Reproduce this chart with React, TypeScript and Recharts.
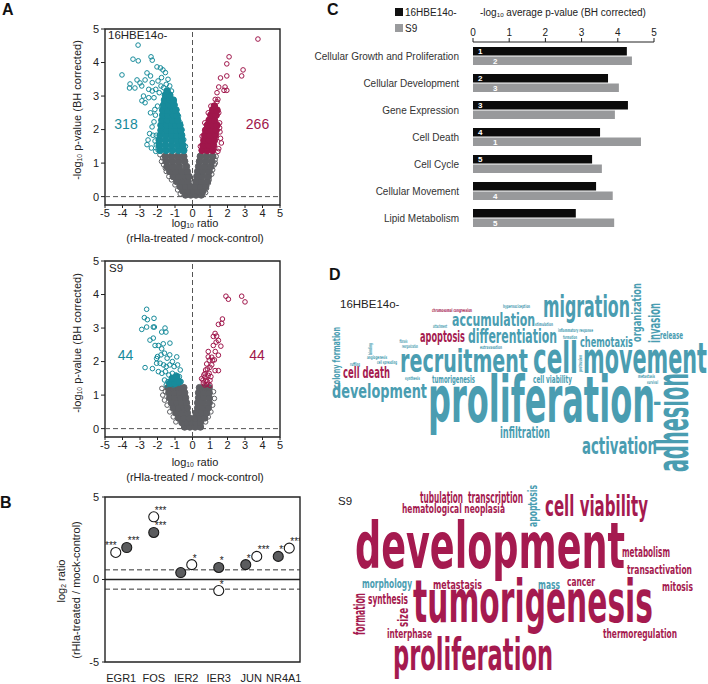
import React from 'react';
import {
  ScatterChart, Scatter, XAxis, YAxis, ReferenceLine, ReferenceArea,
  BarChart, Bar, LabelList,
} from 'recharts';

const FONT = "'Liberation Sans', Arial, Helvetica, sans-serif";
const CLOUD_FONT = "'Liberation Sans Narrow', 'DejaVu Sans Condensed', Roboto, 'Liberation Sans', sans-serif";
const TEAL = '#178b9b';
const RED = '#a0164b';
const GRAY = '#5e5f63';
const CLOUD_COLORS = ['#4a9db1', '#a51a4f'];

// ---------------- Panel A data (log10 ratio, -log10 p) ----------------
const volcanoXTicks = [-5, -4, -3, -2, -1, 0, 1, 2, 3, 4, 5];
const volcanoYTicks = [0, 1, 2, 3, 4, 5];
const hbeDownCount = 318;
const hbeUpCount = 266;
const s9DownCount = 44;
const s9UpCount = 44;

const hbeNsCore: number[][] = [
  [-0.4, 0.05], [-0.1, 0.05], [0.2, 0.05], [0.5, 0.05],
  [-0.55, 0.17], [-0.25, 0.17], [0.05, 0.17], [0.3, 0.17], [0.6, 0.17],
  [-0.7, 0.3], [-0.4, 0.3], [-0.12, 0.3], [0.15, 0.3], [0.45, 0.3], [0.75, 0.3],
  [-0.9, 0.45], [-0.6, 0.45], [-0.25, 0.45], [0.2, 0.45], [0.5, 0.45], [0.85, 0.45],
  [-1.1, 0.6], [-0.8, 0.6], [-0.45, 0.6], [-0.2, 0.6], [0.25, 0.6], [0.55, 0.6], [0.9, 0.6],
  [-1.3, 0.75], [-0.95, 0.75], [-0.6, 0.75], [-0.3, 0.75], [0.3, 0.75], [0.6, 0.75], [0.95, 0.75],
  [-1.45, 0.9], [-1.1, 0.9], [-0.75, 0.9], [-0.35, 0.9], [0.35, 0.9], [0.7, 0.9], [1.05, 0.9],
  [-1.5, 1.05], [-1.15, 1.05], [-0.8, 1.05], [-0.45, 1.05], [0.4, 1.05], [0.75, 1.05], [1.1, 1.05],
  [-1.55, 1.2], [-1.2, 1.2], [-0.85, 1.2], [-0.5, 1.2], [0.45, 1.2], [0.8, 1.2], [1.15, 1.2],
];
const hbeNsOpen: number[][] = [
  [-1.86, 1.25], [-1.77, 1.05], [-1.65, 0.95], [-1.5, 0.75], [-1.35, 0.6], [-1.2, 0.5],
  [-1.0, 0.35], [-0.85, 0.2], [-1.7, 1.15], [-1.55, 0.85], [-0.7, 0.08],
  [1.35, 1.2], [1.29, 1.1], [1.25, 0.95], [1.15, 0.8], [1.1, 0.67], [0.95, 0.5],
  [0.9, 0.4], [0.8, 0.25], [0.75, 0.12], [1.3, 1.0],
];
const hbeDownCore: number[][] = [
  [-1.85, 1.38], [-1.5, 1.38], [-1.15, 1.38], [-0.8, 1.38], [-0.5, 1.38],
  [-1.9, 1.53], [-1.55, 1.53], [-1.2, 1.53], [-0.85, 1.53], [-0.55, 1.53],
  [-1.9, 1.68], [-1.55, 1.68], [-1.2, 1.68], [-0.9, 1.68], [-0.6, 1.68],
  [-1.85, 1.83], [-1.5, 1.83], [-1.2, 1.83], [-0.9, 1.83], [-0.62, 1.83],
  [-1.8, 1.98], [-1.5, 1.98], [-1.2, 1.98], [-0.9, 1.98], [-0.67, 1.98],
  [-1.8, 2.13], [-1.5, 2.13], [-1.2, 2.13], [-0.95, 2.13], [-0.72, 2.13],
  [-1.75, 2.28], [-1.45, 2.28], [-1.15, 2.28], [-0.85, 2.28],
  [-1.7, 2.43], [-1.4, 2.43], [-1.1, 2.43], [-0.9, 2.43],
  [-1.7, 2.58], [-1.4, 2.58], [-1.1, 2.58], [-0.95, 2.58],
  [-1.65, 2.73], [-1.35, 2.73], [-1.05, 2.73],
  [-1.6, 2.88], [-1.3, 2.88], [-1.1, 2.88],
  [-1.55, 3.03], [-1.3, 3.03], [-1.45, 3.15],
];
const hbeDownOpen: number[][] = [
  [-3.11, 4.52], [-3.4, 4.1], [-3.1, 4.05], [-2.37, 4.17], [-2.3, 4.07], [-4.03, 3.63],
  [-3.57, 3.36], [-3.6, 3.24], [-3.29, 3.24], [-3.17, 3.48], [-3.0, 3.39], [-2.9, 3.3],
  [-2.71, 3.48], [-2.6, 3.69], [-2.4, 3.6], [-2.03, 3.87], [-1.83, 3.84], [-1.69, 3.78],
  [-1.77, 3.55], [-1.97, 3.45], [-2.89, 2.86], [-2.71, 2.8], [-2.8, 3.0], [-2.5, 2.95],
  [-2.3, 3.15], [-2.2, 2.95], [-2.31, 2.08], [-2.26, 1.83], [-2.14, 1.66], [-2.54, 1.69],
  [-2.45, 1.88], [-2.07, 1.83], [-2.07, 1.54], [-1.97, 1.39], [-2.2, 2.23], [-2.12, 2.43],
  [-1.55, 3.7], [-1.4, 3.5], [-1.3, 3.3], [-1.5, 3.35], [-1.2, 3.15], [-1.05, 2.85],
  [-0.9, 2.6], [-0.8, 2.4], [-0.6, 2.0], [-0.5, 1.7], [-2.3, 3.4], [-2.1, 3.2],
  [-1.9, 3.1], [-2.5, 3.2], [-2.0, 2.7], [-2.15, 2.6], [-2.4, 2.5], [-2.35, 1.45],
  [-2.6, 1.55], [-1.65, 3.25], [-1.8, 3.3], [-1.35, 3.0], [-0.95, 2.3], [-0.7, 2.2],
  [-0.4, 1.5], [-2.1, 1.35],
];
const hbeUpCore: number[][] = [
  [0.55, 1.38], [0.85, 1.38], [1.15, 1.38],
  [0.6, 1.53], [0.9, 1.53], [1.2, 1.53],
  [0.65, 1.68], [0.95, 1.68], [1.25, 1.68],
  [0.7, 1.83], [1.0, 1.83], [1.3, 1.83],
  [0.75, 1.98], [1.05, 1.98], [1.35, 1.98],
  [0.85, 2.13], [1.15, 2.13], [1.4, 2.13],
  [0.95, 2.28], [1.25, 2.28],
  [1.05, 2.43], [1.35, 2.43],
  [1.15, 2.58], [1.4, 2.58], [1.25, 2.7],
];
const hbeUpOpen: number[][] = [
  [3.74, 4.7], [2.09, 4.17], [1.96, 3.96], [2.89, 3.78], [2.81, 3.6], [1.6, 3.54],
  [1.96, 3.6], [1.5, 3.27], [1.86, 3.27], [1.96, 3.17], [1.8, 3.17], [1.4, 3.1],
  [1.4, 2.83], [1.2, 2.64], [1.57, 1.93], [1.6, 1.74], [1.5, 1.43], [1.55, 2.2],
  [1.5, 2.5], [1.65, 1.6], [1.45, 2.9], [1.3, 2.9], [1.55, 2.05], [1.45, 1.35],
  [0.45, 1.5], [0.55, 1.8], [0.7, 2.2], [0.9, 2.5], [1.05, 2.7],
];

const s9NsCore: number[][] = [
  [-0.45, 0.05], [-0.15, 0.05], [0.15, 0.05], [0.45, 0.05],
  [-0.6, 0.18], [-0.3, 0.18], [-0.05, 0.18], [0.2, 0.18], [0.45, 0.18],
  [-0.8, 0.32], [-0.5, 0.32], [-0.2, 0.32], [0.15, 0.32], [0.45, 0.32], [0.7, 0.32],
  [-0.95, 0.47], [-0.65, 0.47], [-0.3, 0.47], [0.2, 0.47], [0.5, 0.47], [0.8, 0.47],
  [-1.1, 0.62], [-0.8, 0.62], [-0.5, 0.62], [-0.3, 0.62], [0.3, 0.62], [0.6, 0.62], [0.9, 0.62],
  [-1.2, 0.77], [-0.9, 0.77], [-0.6, 0.77], [-0.35, 0.77], [0.3, 0.77], [0.6, 0.77], [0.95, 0.77],
  [-1.3, 0.92], [-1.0, 0.92], [-0.7, 0.92], [-0.4, 0.92], [0.35, 0.92], [0.65, 0.92], [0.95, 0.92],
  [-1.35, 1.07], [-1.05, 1.07], [-0.75, 1.07], [-0.45, 1.07], [0.35, 1.07], [0.65, 1.07], [0.95, 1.07],
  [-1.4, 1.22], [-1.1, 1.22], [-0.8, 1.22], [-0.5, 1.22], [0.4, 1.22], [0.7, 1.22], [0.95, 1.22],
];
const s9NsOpen: number[][] = [
  [-1.75, 1.2], [-1.7, 1.0], [-1.6, 0.85], [-1.55, 1.1], [-1.45, 0.7], [-1.3, 0.5],
  [-1.1, 0.35], [-0.95, 0.2], [1.2, 1.1], [1.25, 0.9], [1.15, 0.7], [1.05, 0.5],
  [0.9, 0.35], [0.75, 0.2],
];
const s9DownCore: number[][] = [
  [-1.3, 1.35], [-1.0, 1.35], [-0.75, 1.4], [-1.15, 1.5], [-0.9, 1.55],
];
const s9DownOpen: number[][] = [
  [-2.62, 3.56], [-2.75, 3.31], [-2.58, 3.25], [-2.2, 3.29], [-2.9, 2.96], [-2.62, 3.03],
  [-2.24, 3.03], [-2.18, 3.03], [-1.76, 2.88], [-1.57, 3.0], [-1.52, 2.88], [-2.43, 2.64],
  [-2.24, 2.7], [-2.14, 2.48], [-1.95, 2.48], [-1.67, 2.53], [-1.76, 2.38], [-1.29, 2.55],
  [-2.71, 1.82], [-2.29, 1.79], [-2.05, 2.09], [-0.9, 2.14],
  [-2.0, 2.15], [-1.8, 2.2], [-1.6, 2.25], [-1.45, 2.1], [-1.3, 2.2], [-1.15, 2.0],
  [-2.05, 1.95], [-1.85, 1.95], [-1.65, 1.9], [-1.5, 1.85], [-1.3, 1.9], [-1.05, 1.85],
  [-0.85, 1.9], [-1.95, 1.7], [-1.75, 1.65], [-1.55, 1.7], [-1.35, 1.6], [-1.15, 1.65],
  [-0.95, 1.6], [-0.75, 1.55], [-1.6, 1.45], [-1.4, 1.4], [-1.2, 1.45], [-1.0, 1.4],
  [-0.8, 1.35], [-0.65, 1.4], [-1.5, 1.3], [-1.1, 1.3], [-0.9, 1.5], [-0.7, 1.75],
];
const s9UpOpen: number[][] = [
  [1.91, 3.95], [2.05, 3.86], [2.81, 3.95], [3.0, 3.78], [1.71, 3.27], [1.67, 3.14],
  [1.48, 3.11], [1.29, 2.84], [1.38, 2.76], [1.19, 2.75], [1.48, 2.63], [1.35, 2.58],
  [1.19, 2.48], [1.62, 2.46], [1.1, 2.13], [1.48, 2.19], [0.96, 2.04], [0.81, 1.93],
  [1.0, 1.83], [1.29, 1.73], [1.48, 1.73], [0.71, 1.64], [0.9, 1.59], [0.52, 1.49],
  [0.77, 1.44], [1.0, 1.44], [0.62, 1.36], [0.81, 1.32], [1.0, 1.29], [0.71, 1.54],
  [0.85, 1.78], [1.15, 2.04], [0.9, 2.14], [0.95, 1.65], [0.6, 1.45], [0.75, 1.75],
  [1.05, 1.55], [0.85, 1.4], [1.1, 1.9], [0.7, 1.3], [0.9, 2.3], [1.3, 2.3],
  [1.25, 2.05], [0.65, 1.6],
];

// ---------------- Panel B data (log2 ratio) ----------------
const genes = ['EGR1', 'FOS', 'IER2', 'IER3', 'JUN', 'NR4A1'];
const openRatio = [1.64, 3.8, 0.9, -0.67, 1.4, 1.9];
const filledRatio = [1.94, 2.85, 0.42, 0.73, 0.9, 1.4];
const openSig = ['***', '***', '*', '*', '***', '***'];
const filledSig = ['***', '***', '', '*', '*', '**'];
const openSide = [-1, 0, 1, 0, 1, 1];
const filledSide = [1, 0, -1, 0, -1, -1];
const bYTicks = [-5, 0, 5];
const foldThreshold = 0.585;

// ---------------- Panel C data ----------------
const functions = [
  'Cellular Growth and Proliferation', 'Cellular Development', 'Gene Expression',
  'Cell Death', 'Cell Cycle', 'Cellular Movement', 'Lipid Metabolism',
];
const hbeScore = [4.25, 3.73, 4.28, 3.51, 3.29, 3.4, 2.84];
const s9Score = [4.39, 4.03, 3.92, 4.64, 3.56, 3.86, 3.9];
const hbeRank = ['1', '2', '3', '4', '5', '', ''];
const s9Rank = ['2', '3', '', '1', '', '4', '5'];
const cTicks = [0, 1, 2, 3, 4, 5];

// ---------------- Panel D data ----------------
// [word, x, y, fontSize, length, colour(0 teal / 1 red), vertical]
type Word = [string, number, number, number, number, number, number];
const hbeWords: Word[] = [
  ['migration', 586.5, 317, 31, 87, 0, 0],
  ['recruitment', 464, 372, 32, 128, 0, 0],
  ['cell', 555.5, 373, 43, 45, 0, 0],
  ['movement', 645, 373, 43, 124, 0, 0],
  ['proliferation', 541.5, 422, 64, 227, 0, 0],
  ['accumulation', 493.5, 326, 18, 83, 0, 0],
  ['differentiation', 512.5, 343, 19, 89, 0, 0],
  ['apoptosis', 442.5, 342, 15, 45, 1, 0],
  ['chemotaxis', 606.5, 347, 14, 53, 0, 0],
  ['release', 671.5, 339, 11, 23, 0, 0],
  ['organization', 641, 312.5, 13, 59, 0, 1],
  ['invasion', 660, 323, 16, 40, 0, 1],
  ['colony formation', 340, 357.5, 11, 61, 0, 1],
  ['cell death', 366.5, 378, 15, 47, 1, 0],
  ['development', 379.5, 398, 20, 95, 0, 0],
  ['tumorigenesis', 453.5, 383, 11, 43, 0, 0],
  ['cell viability', 552.5, 383, 11, 39, 0, 0],
  ['infiltration', 525, 438, 15, 50, 0, 0],
  ['activation', 619.5, 454, 23, 75, 0, 0],
  ['adhesion', 688, 422.5, 44, 99, 0, 1],
  ['chromosomal congression', 452, 312, 5, 40, 1, 0],
  ['hypernociception', 516.5, 308, 5, 27, 0, 0],
  ['attachment', 440, 328, 5, 14, 0, 0],
  ['stimulation', 544, 326, 5, 18, 0, 0],
  ['inflammatory response', 575.5, 332, 5, 35, 0, 0],
  ['formation', 570, 339, 5, 14, 0, 0],
  ['fibrosis', 403.5, 343, 5, 8, 0, 0],
  ['reorganization', 410, 348, 5, 16, 0, 0],
  ['extravasation', 491, 349, 5, 22, 0, 0],
  ['binding', 372, 349, 5, 12, 0, 1],
  ['angiogenesis', 377, 359, 5, 20, 0, 0],
  ['ruffling', 355, 366, 5, 10, 0, 0],
  ['cell spreading', 387, 364, 5, 20, 0, 0],
  ['synthesis', 412.5, 380, 5, 15, 0, 0],
  ['protrusion', 582, 363.5, 5, 17, 0, 1],
  ['metastasis', 646.5, 378, 5, 17, 0, 0],
  ['survival', 652.5, 384, 5, 11, 0, 0],
];
const s9Words: Word[] = [
  ['tubulation', 441.5, 503, 15, 43, 1, 0],
  ['transcription', 495.5, 503, 15, 55, 1, 0],
  ['hematological neoplasia', 453.5, 513, 12, 103, 1, 0],
  ['apoptosis', 537, 506, 12, 42, 0, 1],
  ['cell viability', 596.5, 516, 29, 103, 1, 0],
  ['development', 490, 568, 64, 270, 1, 0],
  ['metabolism', 646, 557, 14, 48, 1, 0],
  ['transactivation', 659.5, 574, 13, 65, 1, 0],
  ['morphology', 387, 588, 13, 50, 0, 0],
  ['metastasis', 457.5, 589, 13, 49, 1, 0],
  ['mass', 549, 589, 13, 22, 0, 0],
  ['cancer', 581, 586, 13, 28, 1, 0],
  ['mitosis', 677.5, 591, 13, 31, 1, 0],
  ['synthesis', 388, 604, 14, 40, 1, 0],
  ['formation', 365, 614, 16, 42, 1, 1],
  ['size', 408, 617.5, 14, 19, 1, 1],
  ['tumorigenesis', 533, 622, 58, 240, 1, 0],
  ['interphase', 409.5, 638, 13, 45, 1, 0],
  ['thermoregulation', 640, 638, 13, 74, 1, 0],
  ['proliferation', 473, 670, 45, 160, 1, 0],
];

// ---------------- helpers ----------------
const toPts = (a: number[][]) => a.map(([x, y]) => ({ x, y }));
const tickStyle = { fontSize: 11, fill: '#222', fontFamily: FONT };
const cTickStyle = { fontSize: 10, fill: '#222', fontFamily: FONT };

const dot = (r: number, fill: string, stroke: string, sw: number) => (p: any) => (
  <circle cx={p.cx} cy={p.cy} r={r} fill={fill} stroke={stroke} strokeWidth={sw} />
);

function Txt(props: {
  x: number; y: number; children: React.ReactNode; size?: number; color?: string;
  weight?: number; align?: 'left' | 'center' | 'right'; rotate?: boolean;
}) {
  const { x, y, children, size = 11, color = '#222', weight = 400, align = 'left', rotate = false } = props;
  const tx = align === 'left' ? '0' : align === 'center' ? '-50%' : '-100%';
  return (
    <div
      style={{
        position: 'absolute', left: x, top: y, fontSize: size, color, fontWeight: weight,
        fontFamily: FONT, lineHeight: 1, whiteSpace: 'nowrap',
        transform: rotate ? 'translate(-50%, -50%) rotate(-90deg)' : `translate(${tx}, -50%)`,
      }}
    >
      {children}
    </div>
  );
}
const Sub = ({ children }: { children: React.ReactNode }) => (
  <span style={{ fontSize: '0.62em', verticalAlign: '-0.25em' }}>{children}</span>
);

type VSet = {
  nsCore: number[][]; nsOpen: number[][]; downCore: number[][]; downOpen: number[][];
  upCore: number[][]; upOpen: number[][];
};

function Volcano({ top, d }: { top: number; d: VSet }) {
  return (
    <div style={{ position: 'absolute', left: 0, top }}>
      <ScatterChart width={300} height={250} margin={{ top: 29, right: 20, bottom: 25, left: 85 }}>
        <XAxis type="number" dataKey="x" domain={[-5, 5]} ticks={volcanoXTicks} interval={0}
          axisLine={false} tickSize={3} tickMargin={1} tick={tickStyle} stroke="#222" height={20} allowDataOverflow />
        <YAxis type="number" dataKey="y" domain={[-0.25, 5]} ticks={volcanoYTicks} interval={0}
          axisLine={false} tickSize={4} tickMargin={2} tick={tickStyle} stroke="#222" width={20} allowDataOverflow />
        <ReferenceLine x={0} stroke="#555" strokeDasharray="5 3" strokeWidth={1} />
        <ReferenceLine y={0} stroke="#555" strokeDasharray="5 3" strokeWidth={1} />
        <Scatter data={toPts(d.nsCore)} shape={dot(3.3, GRAY, GRAY, 1)} isAnimationActive={false} />
        <Scatter data={toPts(d.nsOpen)} shape={dot(2.3, 'none', GRAY, 1)} isAnimationActive={false} />
        <Scatter data={toPts(d.downCore)} shape={dot(3.3, TEAL, TEAL, 1)} isAnimationActive={false} />
        <Scatter data={toPts(d.downOpen)} shape={dot(2.3, 'none', TEAL, 1)} isAnimationActive={false} />
        <Scatter data={toPts(d.upCore)} shape={dot(3.3, RED, RED, 1)} isAnimationActive={false} />
        <Scatter data={toPts(d.upOpen)} shape={dot(2.3, 'none', RED, 1)} isAnimationActive={false} />
        <ReferenceArea x1={-5} x2={5} y1={-0.25} y2={5} fill="none" fillOpacity={0} stroke="#222" strokeWidth={1.4} />
      </ScatterChart>
    </div>
  );
}

const bOpen = genes.map((g, i) => ({ x: i, y: openRatio[i], side: openSide[i], sig: openSig[i] }));
const bFilled = genes.map((g, i) => ({ x: i, y: filledRatio[i], side: filledSide[i], sig: filledSig[i] }));

const bShape = (fill: string, open: boolean) => (p: any) => {
  const side = p.payload?.side ?? 0;
  const sig = p.payload?.sig ?? '';
  const cx = p.cx + side * 5.5;
  const left = open && side < 0;
  return (
    <g>
      <circle cx={cx} cy={p.cy} r={5} fill={fill} stroke="#1a1a1a" strokeWidth={1.1} />
      {sig ? (
        <text x={cx + 1} y={p.cy - 3} textAnchor={left ? 'end' : 'start'}
          fontSize={10} fontFamily={FONT} fill="#222" style={{ fill: '#222' }}>{sig}</text>
      ) : null}
    </g>
  );
};

const cData = functions.map((name, i) => ({
  name, hbe: hbeScore[i], s9: s9Score[i], hbeRank: hbeRank[i], s9Rank: s9Rank[i],
}));

const catTick = (p: any) => (
  <text x={p.x} y={p.y} dy={4} textAnchor="end" fontSize={10} fill="#333" fontFamily={FONT}>
    {p.payload?.value}
  </text>
);

const rankLabel = (dx: number) => (p: any) => {
  if (!p.value) return null;
  return (
    <text x={p.x + dx} y={p.y + p.height / 2 + 3} fill="#fff" fontSize={8} fontWeight={700}
      fontFamily={FONT}>{p.value}</text>
  );
};

const wordShape = (p: any) => {
  const w = p.payload;
  if (!w) return null;
  const color = CLOUD_COLORS[w.c];
  if (w.v) {
    return (
      <text x={p.cx - w.len / 2} y={p.cy} transform={`rotate(-90 ${p.cx} ${p.cy})`}
        fontSize={w.size} fontWeight={700} fontFamily={CLOUD_FONT} fill={color}
        textLength={w.len} lengthAdjust="spacingAndGlyphs">{w.text}</text>
    );
  }
  return (
    <text x={p.cx - w.len / 2} y={p.cy} fontSize={w.size} fontWeight={700} fontFamily={CLOUD_FONT}
      fill={color} textLength={w.len} lengthAdjust="spacingAndGlyphs">{w.text}</text>
  );
};
const toWords = (a: Word[]) => a.map(([text, x, y, size, len, c, v]) => ({ text, x, y, size, len, c, v }));

export default function App() {
  return (
    <div style={{ position: 'absolute', left: 0, top: 0, width: 708, height: 684, background: '#fff', overflow: 'hidden', fontFamily: FONT }}>
      {/* Panel letters */}
      <Txt x={2} y={10} size={16} weight={700} color="#111">A</Txt>
      <Txt x={0} y={503} size={16} weight={700} color="#111">B</Txt>
      <Txt x={327} y={10} size={16} weight={700} color="#111">C</Txt>
      <Txt x={329} y={275} size={16} weight={700} color="#111">D</Txt>

      {/* Panel A */}
      <Volcano top={0} d={{ nsCore: hbeNsCore, nsOpen: hbeNsOpen, downCore: hbeDownCore, downOpen: hbeDownOpen, upCore: hbeUpCore, upOpen: hbeUpOpen }} />
      <Volcano top={232} d={{ nsCore: s9NsCore, nsOpen: s9NsOpen, downCore: s9DownCore, downOpen: s9DownOpen, upCore: [], upOpen: s9UpOpen }} />
      <Txt x={108} y={36} size={11.5}>16HBE14o-</Txt>
      <Txt x={126} y={124} size={14} color={TEAL} align="center">{hbeDownCount}</Txt>
      <Txt x={257.5} y={124} size={14} color={RED} align="center">{hbeUpCount}</Txt>
      <Txt x={109} y={269} size={11.5}>S9</Txt>
      <Txt x={125.5} y={355} size={14} color={TEAL} align="center">{s9DownCount}</Txt>
      <Txt x={257} y={355} size={14} color={RED} align="center">{s9UpCount}</Txt>
      <Txt x={78} y={110} rotate>-log<Sub>10</Sub> p-value (BH corrected)</Txt>
      <Txt x={78} y={343} rotate>-log<Sub>10</Sub> p-value (BH corrected)</Txt>
      <Txt x={195} y={224} align="center">log<Sub>10</Sub> ratio</Txt>
      <Txt x={195} y={238} align="center">(rHla-treated / mock-control)</Txt>
      <Txt x={195} y={463} align="center">log<Sub>10</Sub> ratio</Txt>
      <Txt x={195} y={477} align="center">(rHla-treated / mock-control)</Txt>

      {/* Panel B */}
      <div style={{ position: 'absolute', left: 0, top: 470 }}>
        <ScatterChart width={320} height={214} margin={{ top: 27, right: 20, bottom: 0, left: 85 }}>
          <XAxis type="number" dataKey="x" domain={[-0.5, 5.5]} ticks={[0, 1, 2, 3, 4, 5]} interval={0}
            tickFormatter={(v: number) => genes[v] ?? ''} axisLine={false} tickLine={false}
            tickSize={0} tickMargin={12} tick={tickStyle} height={22} allowDataOverflow />
          <YAxis type="number" dataKey="y" domain={[-5, 5]} ticks={bYTicks} interval={0}
            axisLine={false} tickSize={3} tickMargin={3} tick={tickStyle} stroke="#222" width={20} allowDataOverflow />
          <ReferenceLine y={0} stroke="#222" strokeWidth={1.3} />
          <ReferenceLine y={foldThreshold} stroke="#333" strokeDasharray="5 3" strokeWidth={1} />
          <ReferenceLine y={-foldThreshold} stroke="#333" strokeDasharray="5 3" strokeWidth={1} />
          <Scatter data={bFilled} shape={bShape('#5b5c5e', false)} isAnimationActive={false} />
          <Scatter data={bOpen} shape={bShape('#fff', true)} isAnimationActive={false} />
          <ReferenceArea x1={-0.5} x2={5.5} y1={-5} y2={5} fill="none" fillOpacity={0} stroke="#222" strokeWidth={1.4} />
        </ScatterChart>
      </div>
      <Txt x={62} y={581} rotate>log<Sub>2</Sub> ratio</Txt>
      <Txt x={76} y={590} rotate>(rHla-treated / mock-control)</Txt>

      {/* Panel C */}
      <div style={{ position: 'absolute', left: 395, top: 8, width: 8, height: 8, background: '#111' }} />
      <Txt x={405} y={12.5} size={10}>16HBE14o-</Txt>
      <div style={{ position: 'absolute', left: 395, top: 24, width: 8, height: 8, background: '#9a9b9d' }} />
      <Txt x={405} y={28.5} size={10}>S9</Txt>
      <Txt x={480} y={12.5} size={10}>-log<Sub>10</Sub> average p-value (BH corrected)</Txt>
      <div style={{ position: 'absolute', left: 300, top: 0 }}>
        <BarChart width={408} height={250} layout="vertical" data={cData}
          margin={{ top: 22, right: 54, bottom: 19, left: 0 }} barGap={1} barCategoryGap={9}>
          <XAxis type="number" orientation="top" domain={[0, 5]} ticks={cTicks} interval={0}
            tickSize={4} tickMargin={2} tick={cTickStyle} stroke="#222" height={20} allowDataOverflow />
          <YAxis type="category" dataKey="name" width={173} axisLine={false} tickLine={false}
            tickSize={0} tickMargin={14} tick={catTick} interval={0} />
          <Bar dataKey="hbe" fill="#0b0b0b" barSize={8.5} isAnimationActive={false}>
            <LabelList dataKey="hbeRank" content={rankLabel(5)} />
          </Bar>
          <Bar dataKey="s9" fill="#98999b" barSize={8.5} isAnimationActive={false}>
            <LabelList dataKey="s9Rank" content={rankLabel(20)} />
          </Bar>
        </BarChart>
      </div>

      {/* Panel D */}
      <Txt x={340} y={305} size={11.5}>16HBE14o-</Txt>
      <Txt x={338} y={502} size={11.5}>S9</Txt>
      <div style={{ position: 'absolute', left: 300, top: 270 }}>
        <ScatterChart width={408} height={414} margin={{ top: 0, right: 0, bottom: 0, left: 0 }}>
          <XAxis type="number" dataKey="x" domain={[300, 708]} hide allowDataOverflow />
          <YAxis type="number" dataKey="y" domain={[270, 684]} reversed hide allowDataOverflow />
          <Scatter data={toWords(hbeWords)} shape={wordShape} isAnimationActive={false} />
          <Scatter data={toWords(s9Words)} shape={wordShape} isAnimationActive={false} />
        </ScatterChart>
      </div>
    </div>
  );
}
